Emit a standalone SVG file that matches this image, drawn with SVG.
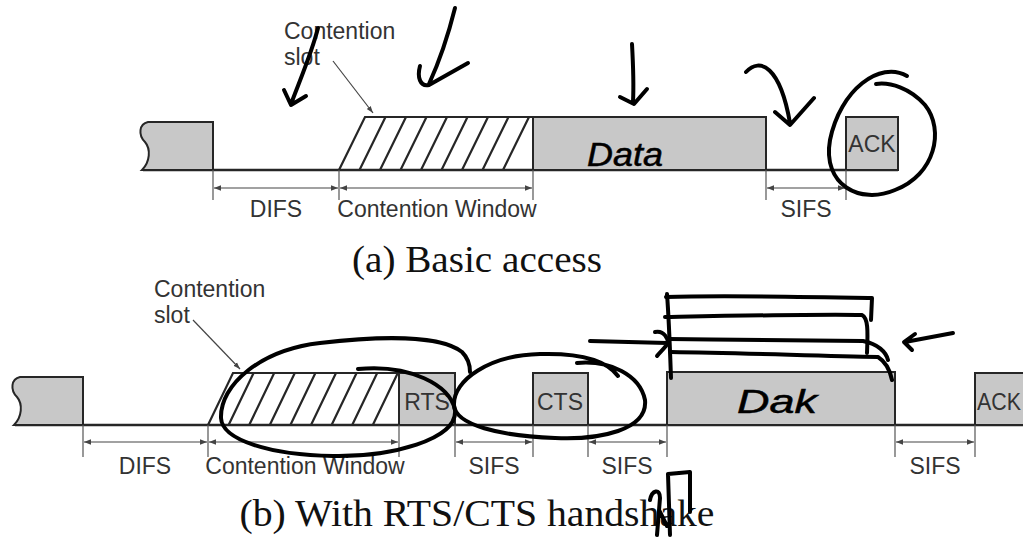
<svg xmlns="http://www.w3.org/2000/svg" width="1023" height="545" viewBox="0 0 1023 545">
  <style>
    .frame { fill: #c8c8c8; stroke: #262626; stroke-width: 2; }
    .base { fill: none; stroke: #262626; stroke-width: 2.5; }
    .hatch { fill: none; stroke: #262626; stroke-width: 2.2; }
    .tick { fill: none; stroke: #555; stroke-width: 1.2; }
    .dim { fill: none; stroke: #444; stroke-width: 1.2; marker-start: url(#dimHead); marker-end: url(#dimHead); }
    .lead { fill: none; stroke: #444; stroke-width: 1.2; marker-end: url(#leadHead); }
    .lbl { font-family: "Liberation Sans", Arial, sans-serif; font-size: 23px; fill: #333; }
    .mid { text-anchor: middle; }
    .title { font-family: "Liberation Serif", "Times New Roman", serif; font-size: 37px; fill: #111; text-anchor: middle; }
    .ink { fill: none; stroke: #000; stroke-width: 4; stroke-linecap: round; stroke-linejoin: round; }
    .hand { font-family: "Liberation Sans", Arial, sans-serif; font-style: italic; font-size: 34px; fill: #000; stroke: #000; stroke-width: 0.5; }
  </style>
  <defs>
    <marker id="dimHead" viewBox="0 0 10 10" refX="10" refY="5" markerWidth="7" markerHeight="7" markerUnits="userSpaceOnUse" orient="auto-start-reverse">
      <path d="M0,1 L10,5 L0,9 Z" fill="#444"/>
    </marker>
    <marker id="leadHead" viewBox="0 0 10 10" refX="10" refY="5" markerWidth="7" markerHeight="7" markerUnits="userSpaceOnUse" orient="auto">
      <path d="M0,1.5 L10,5 L0,8.5 Z" fill="#444"/>
    </marker>
  </defs>

  <rect width="1023" height="545" fill="#fff"/>

  <!-- (a) Basic access -->
  <g id="a-timeline">
    <line class="base" x1="143" y1="170" x2="898" y2="170"/>
  </g>
  <g id="a-prev-frame">
    <path class="frame" d="M213 122 L148 122 C139 124 138 135 145 142 C151 149 150 162 142 170 L213 170 Z"/>
  </g>
  <g id="a-contention">
    <path class="hatch" d="M339 170 L365 117 L533 117"/>
    <path class="hatch" d="M359.5 170 L385.5 117 M380 170 L406 117 M400.5 170 L426.5 117 M421 170 L447 117 M441.5 170 L467.5 117 M462 170 L488 117 M482.5 170 L508.5 117 M503 170 L529 117"/>
  </g>
  <g id="a-data">
    <rect class="frame" x="533" y="117" width="233" height="53"/>
  </g>
  <g id="a-ack">
    <rect class="frame" x="846" y="117" width="52" height="53"/>
    <text class="lbl mid" x="872" y="152">ACK</text>
  </g>
  <g id="a-slot-label">
    <text class="lbl" x="284" y="39">Contention</text>
    <text class="lbl" x="284" y="65">slot</text>
  </g>

  <!-- (b) With RTS/CTS handshake -->
  <g id="b-timeline">
    <line class="base" x1="15" y1="425" x2="1023" y2="425"/>
  </g>
  <g id="b-prev-frame">
    <path class="frame" d="M83 377 L20 377 C11 379 10 390 17 397 C23 404 22 417 14 425 L83 425 Z"/>
  </g>
  <g id="b-contention">
    <path class="hatch" d="M208 425 L233 373 L399 373"/>
    <path class="hatch" d="M228.6 425 L253.6 373 M249.2 425 L274.2 373 M269.8 425 L294.8 373 M290.4 425 L315.4 373 M311 425 L336 373 M331.6 425 L356.6 373 M352.2 425 L377.2 373 M372.8 425 L397.8 373"/>
  </g>
  <g id="b-rts">
    <rect class="frame" x="399" y="373" width="56" height="52"/>
    <text class="lbl mid" x="427" y="410">RTS</text>
  </g>
  <g id="b-cts">
    <rect class="frame" x="533" y="373" width="55" height="52"/>
    <text class="lbl mid" x="560" y="410">CTS</text>
  </g>
  <g id="b-data">
    <rect class="frame" x="667" y="372" width="228" height="53"/>
  </g>
  <g id="b-ack">
    <rect class="frame" x="975" y="373" width="60" height="52"/>
    <text class="lbl" x="977" y="410" textLength="44" lengthAdjust="spacingAndGlyphs">ACK</text>
  </g>
  <g id="b-slot-label">
    <text class="lbl" x="154" y="297">Contention</text>
    <text class="lbl" x="154" y="323">slot</text>
  </g>

  <!-- timing intervals, leaders -->
  <g id="connectors">
    <path class="tick" d="M213 170 V200 M339 170 V200 M533 170 V200 M766 170 V200 M846 170 V200"/>
    <line class="dim" x1="214" y1="188" x2="338" y2="188"/>
    <line class="dim" x1="340" y1="188" x2="532" y2="188"/>
    <line class="dim" x1="767" y1="188" x2="845" y2="188"/>
    <line class="lead" x1="333" y1="61" x2="373" y2="113"/>

    <path class="tick" d="M83 425 V457 M208 425 V457 M399 425 V457 M455 425 V457 M533 425 V457 M588 425 V457 M667 425 V457 M895 425 V457 M975 425 V457"/>
    <line class="dim" x1="84" y1="442" x2="207" y2="442"/>
    <line class="dim" x1="209" y1="442" x2="398" y2="442"/>
    <line class="dim" x1="456" y1="442" x2="532" y2="442"/>
    <line class="dim" x1="589" y1="442" x2="666" y2="442"/>
    <line class="dim" x1="896" y1="442" x2="974" y2="442"/>
    <line class="lead" x1="193" y1="320" x2="240" y2="369"/>
  </g>

  <g id="interval-labels">
    <text class="lbl mid" x="276" y="217">DIFS</text>
    <text class="lbl mid" x="437" y="217">Contention Window</text>
    <text class="lbl mid" x="806" y="217">SIFS</text>
    <text class="lbl mid" x="145" y="474">DIFS</text>
    <text class="lbl mid" x="305" y="474">Contention Window</text>
    <text class="lbl mid" x="494" y="474">SIFS</text>
    <text class="lbl mid" x="627" y="474">SIFS</text>
    <text class="lbl mid" x="935" y="474">SIFS</text>
  </g>

  <g id="captions">
    <text class="title" x="477" y="272" textLength="250" lengthAdjust="spacingAndGlyphs">(a) Basic access</text>
    <text class="title" x="477" y="526" textLength="475" lengthAdjust="spacingAndGlyphs">(b) With RTS/CTS handshake</text>
  </g>

  <!-- pen notes -->
  <g id="notes-a">
    <path class="ink" d="M318 28 C312 52 300 80 291 104 M284 90 L291 105 L306 96"/>
    <path class="ink" d="M455 8 C449 32 440 60 429 84 M420 66 C417 77 420 87 429 85 L468 63"/>
    <path class="ink" d="M632 44 C633 62 634 82 633 102 M620 97 L634 104 L647 89"/>
    <path class="ink" d="M746 72 C760 57 780 66 790 123 M775 112 L790 125 L814 98"/>
    <path class="ink" d="M907 76 C880 60 840 90 830 140 C822 185 860 205 895 190 C935 175 945 130 925 105 C910 88 890 82 876 84"/>
    <text class="hand" x="587" y="166" textLength="76" lengthAdjust="spacingAndGlyphs">Data</text>
  </g>
  <g id="notes-b">
    <path class="ink" d="M358 369 C410 364 450 385 455 410 C458 440 390 457 333 456 C270 455 222 440 221 418 C220 385 260 350 320 343 C380 336 440 335 462 352 C468 358 470 366 470 372"/>
    <path class="ink" d="M577 363 C610 360 640 375 645 400 C648 430 600 440 555 438 C500 436 455 425 454 405 C453 380 490 355 540 354 C575 353 605 358 618 376"/>
    <path class="ink" d="M667 294 C669 320 670 350 671 378"/>
    <path class="ink" d="M666 297 C720 295 820 297 872 298 L871 320"/>
    <path class="ink" d="M665 317 C720 316 820 314 862 315 C868 318 868 330 867 353"/>
    <path class="ink" d="M669 339 C740 340 820 340 863 341 C878 344 886 352 888 360"/>
    <path class="ink" d="M671 352 C740 353 820 356 878 357 C886 362 890 370 892 380"/>
    <path class="ink" d="M590 341 L667 343 M655 332 C665 330 668 340 668 343 C665 348 660 352 657 356"/>
    <path class="ink" d="M953 333 L905 342 M915 334 L904 342 L912 350"/>
    <path class="ink" d="M650 500 C652 490 660 488 660 498 L657 535 M659 510 L667 526 M668 474 L670 535 M668 474 L690 472 L690 512"/>
    <text class="hand" x="737" y="413" font-size="38" textLength="80" lengthAdjust="spacingAndGlyphs">Dak</text>
  </g>
</svg>
